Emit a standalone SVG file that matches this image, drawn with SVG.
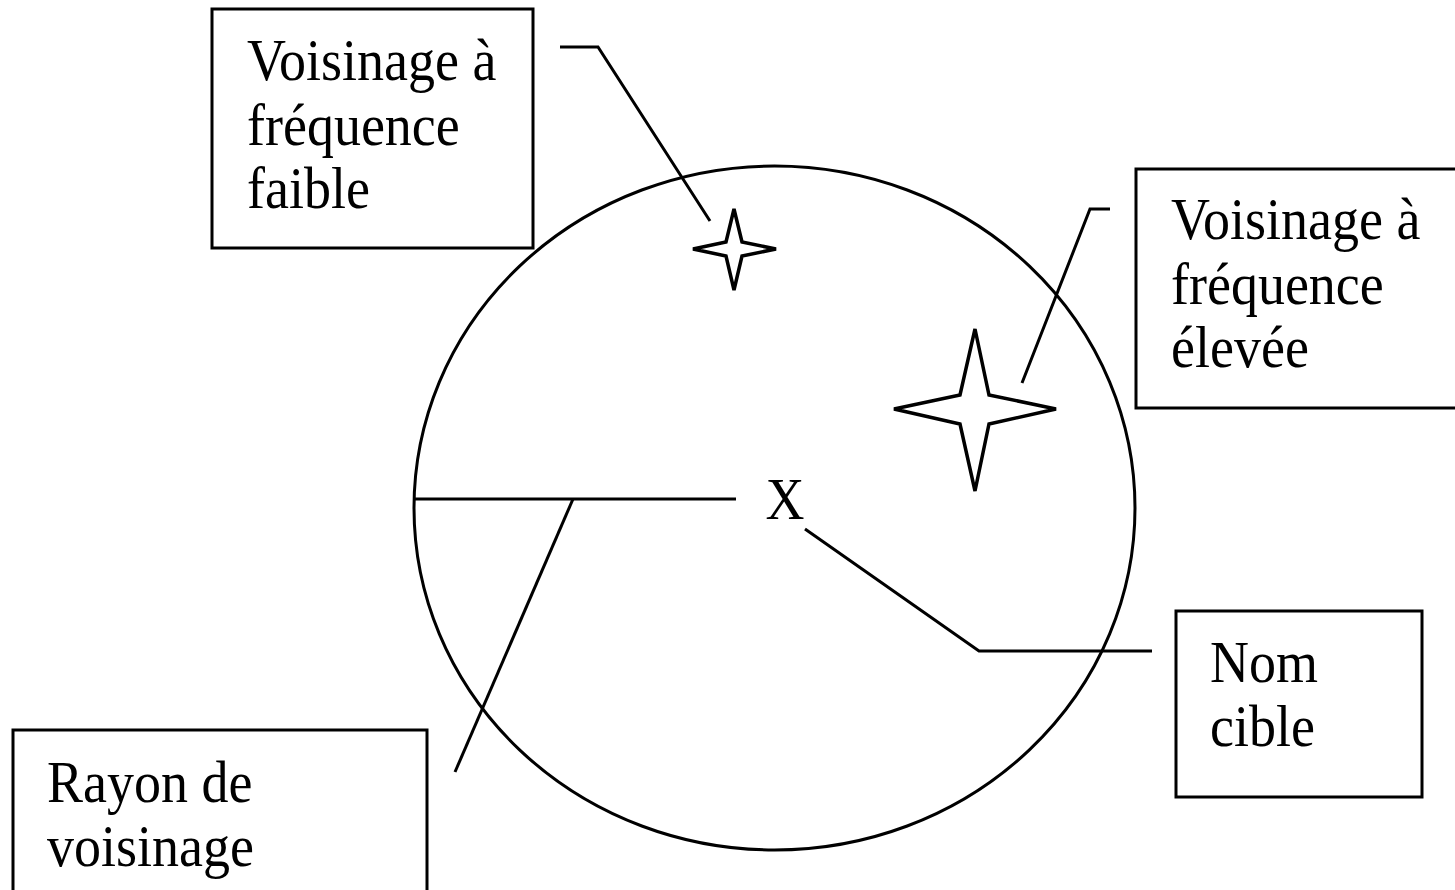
<svg xmlns="http://www.w3.org/2000/svg" width="1455" height="890" viewBox="0 0 1455 890">
<style>
.box{fill:#fff;stroke:#000;stroke-width:3}
.ln{fill:none;stroke:#000;stroke-width:3;stroke-linejoin:miter}
.star{fill:#fff;stroke:#000;stroke-width:3.5;stroke-linejoin:miter}
.t{font-family:"Liberation Serif","Times New Roman",serif;font-size:54px;fill:#000}
</style>
<rect width="1455" height="890" fill="#fff"/>
<g id="circle"><ellipse cx="774.5" cy="508" rx="360.5" ry="342" class="ln"/></g>
<g id="connectors">
<polyline class="ln" points="560,47 598,47 710,221"/>
<polyline class="ln" points="1110,209 1090,209 1022,383"/>
<polyline class="ln" points="414,499 736,499"/>
<polyline class="ln" points="573,499 455,772"/>
<polyline class="ln" points="805,529 979,651 1152,651"/>
</g>
<g id="star-small"><polygon class="star" points="734,209 742,242 776,249 742,256 734,290 726,256 693,249 726,242"/></g>
<g id="star-big"><polygon class="star" points="975,329 989,395 1056,409 989,424 975,491 960,424 894,409 960,395"/></g>
<g id="target"><text class="t" transform="translate(785,519) scale(1,1.1)" text-anchor="middle">X</text></g>
<g id="box-faible">
<rect class="box" x="212" y="9" width="321" height="239"/>
<text class="t" transform="translate(247,80) scale(1,1.1)">Voisinage à</text>
<text class="t" transform="translate(247,145) scale(1,1.1)">fréquence</text>
<text class="t" transform="translate(247,208) scale(1,1.1)">faible</text>
</g>
<g id="box-elevee">
<rect class="box" x="1136" y="169" width="330" height="239"/>
<text class="t" transform="translate(1171,239) scale(1,1.1)">Voisinage à</text>
<text class="t" transform="translate(1171,304) scale(1,1.1)">fréquence</text>
<text class="t" transform="translate(1171,367) scale(1,1.1)">élevée</text>
</g>
<g id="box-nom">
<rect class="box" x="1176" y="611" width="246" height="186"/>
<text class="t" transform="translate(1210,682) scale(1,1.1)">Nom</text>
<text class="t" transform="translate(1210,746) scale(1,1.1)">cible</text>
</g>
<g id="box-rayon">
<rect class="box" x="13" y="730" width="414" height="170"/>
<text class="t" transform="translate(47,802) scale(1,1.1)">Rayon de</text>
<text class="t" transform="translate(47,866) scale(1,1.1)">voisinage</text>
</g>
</svg>
